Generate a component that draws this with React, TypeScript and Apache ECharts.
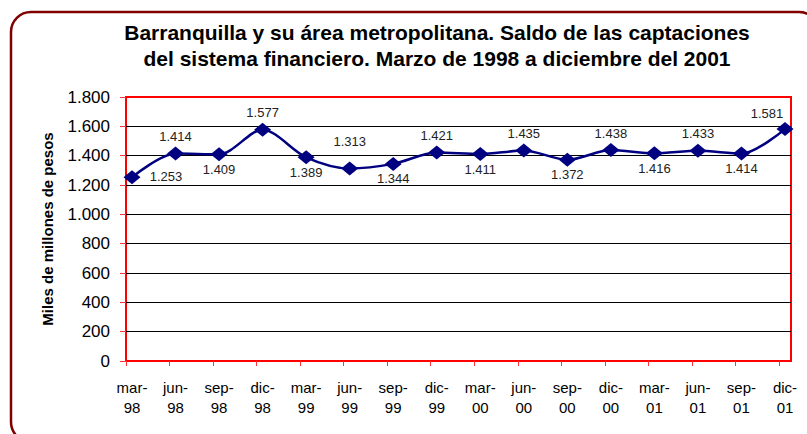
import React, { useEffect, useRef } from 'react';
import * as echarts from 'echarts';

const titleLines = [
  'Barranquilla y su área metropolitana. Saldo de las captaciones',
  'del sistema financiero. Marzo de 1998 a diciembre del 2001',
];
const yAxisTitle = 'Miles de millones de pesos';
const categories = [
  'mar-\n98', 'jun-\n98', 'sep-\n98', 'dic-\n98',
  'mar-\n99', 'jun-\n99', 'sep-\n99', 'dic-\n99',
  'mar-\n00', 'jun-\n00', 'sep-\n00', 'dic-\n00',
  'mar-\n01', 'jun-\n01', 'sep-\n01', 'dic-\n01',
];
const values = [1253, 1414, 1409, 1577, 1389, 1313, 1344, 1421, 1411, 1435, 1372, 1438, 1416, 1433, 1414, 1581];
const labelPlacement = [
  'right', 'top', 'bottom', 'top', 'bottom', 'high', 'bottom', 'top',
  'bottom', 'top', 'bottom', 'top', 'bottom', 'top', 'bottom', 'topLeft',
];
const yMin = 0;
const yMax = 1800;
const yInterval = 200;

const FONT = '"Liberation Sans", Arial, Helvetica, sans-serif';

const placementOffset: Record<string, number[]> = {
  right: [34, -1],
  top: [0, -17],
  bottom: [0, 15],
  high: [0, -27],
  topLeft: [-18, -16],
};

function fmt(v: number): string {
  if (v < 1000) return String(v);
  return Math.floor(v / 1000) + '.' + String(v % 1000).padStart(3, '0');
}

export default function App() {
  const ref = useRef<HTMLDivElement>(null);
  useEffect(() => {
    document.body.style.margin = '0';
    const chart = echarts.init(ref.current!, null, { renderer: 'svg' });
    const seriesData = values.map((v, i) => ({
      value: v,
      label: { position: 'inside', offset: placementOffset[labelPlacement[i]] },
    }));
    chart.setOption({
      animation: false,
      backgroundColor: '#ffffff',
      textStyle: { fontFamily: FONT },
      title: {
        text: titleLines.join('\n'),
        left: 432,
        top: 14,
        textAlign: 'center',
        textStyle: { fontFamily: FONT, fontSize: 21, fontWeight: 'bold', color: '#000', lineHeight: 26 },
      },
      graphic: [
        {
          type: 'rect',
          shape: { x: 11, y: 12, width: 808, height: 430, r: 20 },
          style: { fill: 'none', stroke: '#800000', lineWidth: 2.5 },
          silent: true,
        },
        {
          type: 'text',
          x: 47,
          y: 229,
          rotation: Math.PI / 2,
          style: {
            text: yAxisTitle,
            fontFamily: FONT,
            fontSize: 15,
            fontWeight: 'bold',
            fill: '#000',
            align: 'center',
            verticalAlign: 'middle',
          },
        },
      ],
      grid: [
        { left: 126, top: 97, right: 16, bottom: 73, show: true, borderColor: '#ff0000', borderWidth: 2, backgroundColor: 'transparent' },
        { left: 132, top: 97, right: 22, bottom: 73 },
        { left: 126, top: 97, right: 28, bottom: 73 },
      ],
      xAxis: [
        { gridIndex: 0, type: 'category', data: categories, boundaryGap: false, show: false },
        {
          gridIndex: 1, type: 'category', data: categories, boundaryGap: false,
          axisLine: { show: false }, axisTick: { show: false },
          axisLabel: { fontFamily: FONT, fontSize: 15, color: '#000', lineHeight: 20, margin: 16, interval: 0 },
        },
        {
          gridIndex: 2, type: 'category', data: categories, boundaryGap: false,
          axisLine: { show: false },
          axisTick: { show: true, length: 5, interval: 0, lineStyle: { color: '#ff3333', width: 1 } },
          axisLabel: { show: false },
        },
      ],
      yAxis: [
        {
          gridIndex: 0, type: 'value', min: yMin, max: yMax, interval: yInterval,
          axisLine: { show: false },
          axisTick: { show: true, length: 6, lineStyle: { color: '#ff3333', width: 1 } },
          axisLabel: { fontFamily: FONT, fontSize: 17, color: '#000', margin: 16, formatter: (v: number) => fmt(v) },
          splitLine: { show: true, showMinLine: false, showMaxLine: false, lineStyle: { color: '#000', width: 1 } },
        },
        { gridIndex: 1, type: 'value', min: yMin, max: yMax, interval: yInterval, show: false, splitLine: { show: false } },
        { gridIndex: 2, type: 'value', min: yMin, max: yMax, interval: yInterval, show: false, splitLine: { show: false } },
      ],
      series: [
        {
          type: 'line',
          xAxisIndex: 1,
          yAxisIndex: 1,
          data: seriesData,
          smooth: 0.3,
          symbol: 'diamond',
          symbolSize: [17, 14],
          lineStyle: { color: '#000080', width: 2.5 },
          itemStyle: { color: '#000080' },
          label: {
            show: true,
            fontFamily: FONT,
            fontSize: 13,
            color: '#222',
            formatter: (p: any) => fmt(p.value),
          },
          z: 5,
        },
      ],
    });
    return () => chart.dispose();
  }, []);
  return <div ref={ref} style={{ width: 807, height: 434 }} />;
}
